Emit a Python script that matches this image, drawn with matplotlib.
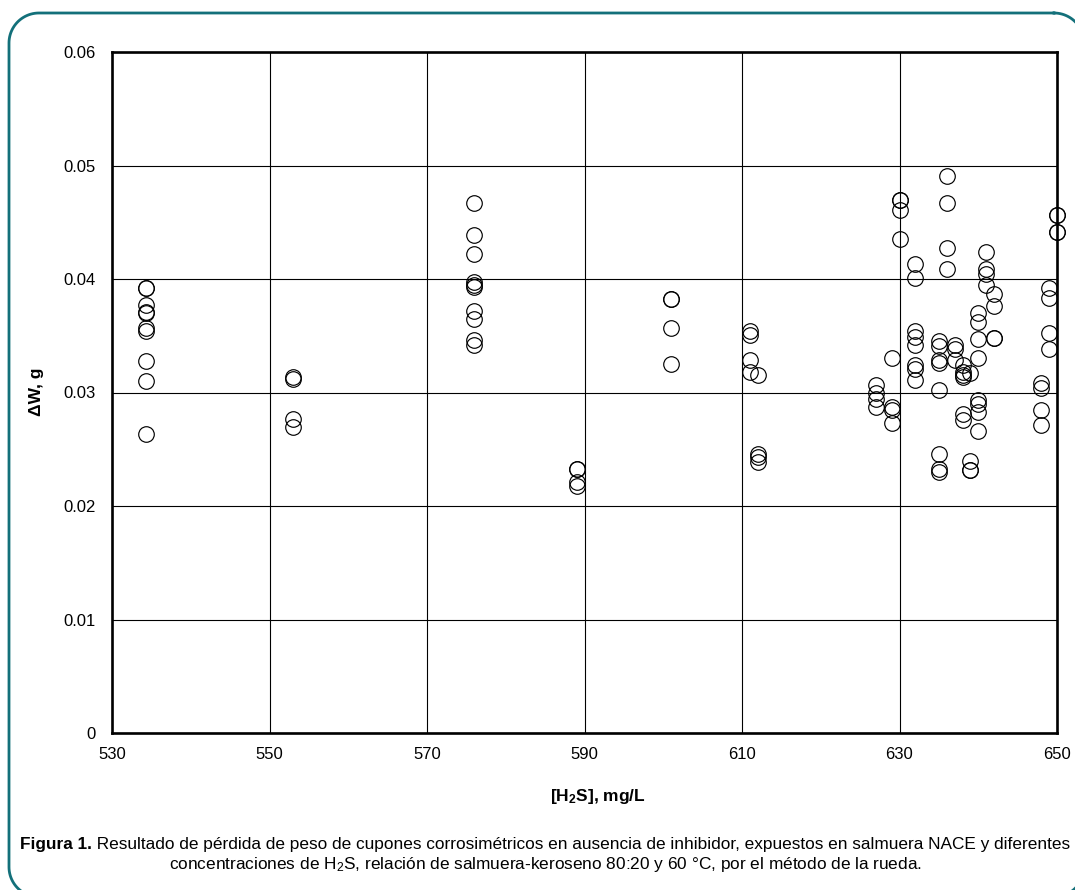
import matplotlib
matplotlib.use('Agg')
import numpy as np
import matplotlib.pyplot as plt
from matplotlib.lines import Line2D

plt.rcParams['font.family'] = ['Liberation Sans', 'DejaVu Sans']
plt.rcParams['mathtext.fontset'] = 'custom'
plt.rcParams['mathtext.rm'] = 'Liberation Sans'
plt.rcParams['mathtext.it'] = 'Liberation Sans:italic'
plt.rcParams['mathtext.bf'] = 'Liberation Sans:bold'

# ---- data: H2S concentration (mg/L) and weight loss (g) per test group ----
h2s_mg_L = [534.3, 553, 576, 589, 601, 611, 612, 627, 629, 630, 632, 635,
            636, 637, 638, 639, 640, 641, 642, 648, 649, 650]
weight_loss_g = [
    [0.0392, 0.0392, 0.0377, 0.0371, 0.0370, 0.0357, 0.0354, 0.0328, 0.0310, 0.0263],
    [0.0314, 0.0312, 0.0277, 0.0270],
    [0.0467, 0.0439, 0.0422, 0.0397, 0.0395, 0.0393, 0.0372, 0.0365, 0.0346, 0.0342],
    [0.0233, 0.0233, 0.0221, 0.0218],
    [0.0382, 0.0382, 0.0357, 0.0325],
    [0.0354, 0.0351, 0.0329, 0.0318],
    [0.0315, 0.0246, 0.0243, 0.0239],
    [0.0307, 0.0300, 0.0294, 0.0287],
    [0.0330, 0.0287, 0.0285, 0.0273],
    [0.0470, 0.0470, 0.0461, 0.0435],
    [0.0413, 0.0401, 0.0354, 0.0349, 0.0342, 0.0324, 0.0321, 0.0311],
    [0.0345, 0.0341, 0.0329, 0.0326, 0.0302, 0.0246, 0.0233, 0.0230],
    [0.0491, 0.0467, 0.0427, 0.0409],
    [0.0342, 0.0338, 0.0329],
    [0.0324, 0.0318, 0.0315, 0.0314, 0.0281, 0.0276],
    [0.0317, 0.0240, 0.0232, 0.0232],
    [0.0370, 0.0362, 0.0347, 0.0330, 0.0293, 0.0290, 0.0283, 0.0266],
    [0.0424, 0.0409, 0.0404, 0.0395],
    [0.0387, 0.0376, 0.0348, 0.0348],
    [0.0308, 0.0304, 0.0285, 0.0271],
    [0.0392, 0.0383, 0.0352, 0.0338],
    [0.0456, 0.0456, 0.0441, 0.0441],
]
x_ticks = [530, 550, 570, 590, 610, 630, 650]
y_ticks = [0, 0.01, 0.02, 0.03, 0.04, 0.05, 0.06]
y_tick_labels = ['0', '0.01', '0.02', '0.03', '0.04', '0.05', '0.06']

W, H = 1075, 890
fig = plt.figure(figsize=(W / 100, H / 100), dpi=100)
fig.patch.set_facecolor('white')

# rounded teal frame drawn in pixel coordinates (top-left origin)
def rounded_rect_px(l, t, r, b, rad, n=24):
    pts = []
    corners = [((r - rad, t + rad), -90, 0), ((r - rad, b - rad), 0, 90),
               ((l + rad, b - rad), 90, 180), ((l + rad, t + rad), 180, 270)]
    for (cx, cy), a0, a1 in corners:
        for a in np.linspace(np.radians(a0), np.radians(a1), n):
            pts.append((cx + rad * np.cos(a), cy + rad * np.sin(a)))
    pts.append(pts[0])
    return np.array(pts)

fr = rounded_rect_px(9, 13, 1084, 897, 30)
fig.add_artist(Line2D(fr[:, 0] / 100, (H - fr[:, 1]) / 100,
                      transform=fig.dpi_scale_trans, color='#13707a',
                      linewidth=2.0, solid_joinstyle='round'))

ax = fig.add_axes([112 / W, 1 - 733 / H, (1057 - 112) / W, (733 - 52) / H])

xs, ys = [], []
for xv, vals in zip(h2s_mg_L, weight_loss_g):
    for v in vals:
        xs.append(xv)
        ys.append(v)
ax.plot(xs, ys, linestyle='none', marker='o', markersize=11.2,
        markerfacecolor='none', markeredgecolor='black', markeredgewidth=0.85,
        clip_on=False, zorder=3)

ax.set_xlim(530, 650)
ax.set_ylim(0, 0.06)
ax.set_xticks(x_ticks)
ax.set_xticklabels([str(t) for t in x_ticks])
ax.set_yticks(y_ticks)
ax.set_yticklabels(y_tick_labels)
ax.tick_params(axis='both', length=0, labelsize=12, colors='black')
ax.tick_params(axis='x', pad=10)
ax.tick_params(axis='y', pad=12)
ax.grid(True, color='black', linewidth=0.8)
ax.set_axisbelow(True)
for s in ax.spines.values():
    s.set_linewidth(1.9)
    s.set_color('black')

fig.text(36 / W, 1 - 392 / H, 'ΔW, g', rotation=90, ha='center', va='center',
         fontsize=12.5, fontweight='bold')
fig.text(598 / W, 1 - 797 / H, r'[H$_\mathbf{2}$S], mg/L', ha='center', va='center',
         fontsize=12.5, fontweight='bold')

# caption: bold lead + regular text, laid out as one centred line
cap_fs = 12.45
cap_center = 545
renderer = fig.canvas.get_renderer()
t_bold = fig.text(0, 1 - 845 / H, 'Figura 1.', ha='left', va='center',
                  fontsize=cap_fs, fontweight='bold')
t_rest = fig.text(0, 1 - 845 / H,
                  ' Resultado de pérdida de peso de cupones corrosimétricos en ausencia de inhibidor, expuestos en salmuera NACE y diferentes',
                  ha='left', va='center', fontsize=cap_fs)
wb = t_bold.get_window_extent(renderer).width
wr = t_rest.get_window_extent(renderer).width
x0 = cap_center - (wb + wr) / 2
t_bold.set_x(x0 / W)
t_rest.set_x((x0 + wb) / W)
fig.text(cap_center / W, 1 - 864 / H,
         r'concentraciones de H$_2$S, relación de salmuera-keroseno 80:20 y 60 °C, por el método de la rueda.',
         ha='center', va='center', fontsize=cap_fs)

fig.savefig('out.png', dpi=100)
